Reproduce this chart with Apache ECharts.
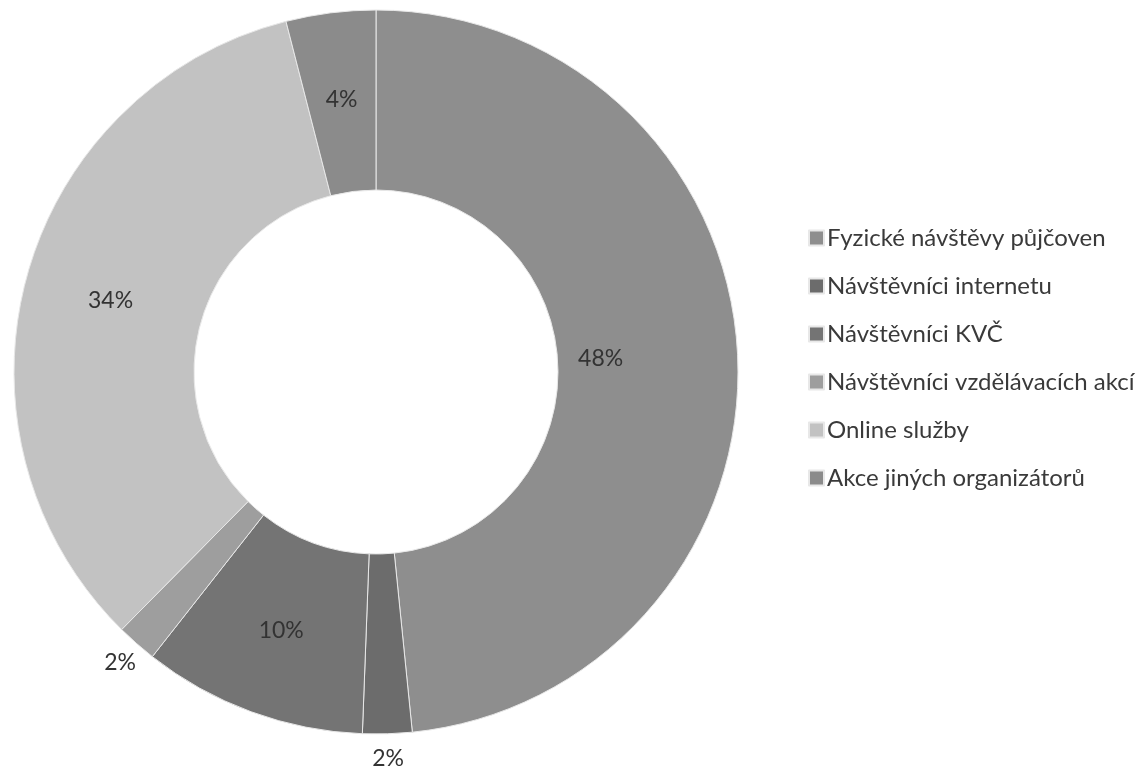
<!DOCTYPE html>
<html>
<head>
<meta charset="utf-8">
<script src="https://cdn.jsdelivr.net/npm/echarts@6/dist/echarts.min.js"></script>
<style>
html,body{margin:0;padding:0;background:#fff;}
#chart{width:1147px;height:767px;}
</style>
</head>
<body>
<div id="chart"></div>
<script>
const categories = ["Fyzické návštěvy půjčoven","Návštěvníci internetu","Návštěvníci KVČ","Návštěvníci vzdělávacích akcí","Online služby","Akce jiných organizátorů"];
const shares = [48.4, 2.2, 10.0, 1.8, 33.6, 4.0];
const colors = ["#8e8e8e","#6c6c6c","#747474","#9e9e9e","#c2c2c2","#8b8b8b"];
const outsideLabelThreshold = 3;

const chart = echarts.init(document.getElementById('chart'));
const mainData = categories.map((c,i)=>({name:c,value:shares[i],itemStyle:{color:colors[i]}}));
const ringData = categories.map((c,i)=>({name:c,value:shares[i]}));
const fmt = p => Math.round(p.percent) + '%';

chart.setOption({
  animation:false,
  backgroundColor:'#ffffff',
  legend:{
    orient:'vertical',
    left:803,
    top:221,
    itemWidth:15,
    itemHeight:15,
    itemGap:24,
    icon:'rect',
    textStyle:{fontFamily:'Lato',fontSize:24,color:'#3a3a3a',padding:[0,0,0,-2]},
    data:categories
  },
  series:[
    {
      type:'pie',
      center:[376,372],
      radius:[182,362],
      startAngle:90,
      clockwise:true,
      avoidLabelOverlap:false,
      itemStyle:{borderColor:'#e8e8e8',borderWidth:1},
      label:{
        show:true,
        position:'inside',
        fontFamily:'Lato',
        fontSize:23,
        color:'#333',
        formatter:p => p.value < outsideLabelThreshold ? '' : fmt(p)
      },
      labelLayout: p => p.dataIndex === 0 ? {dx:-50} : {},
      labelLine:{show:false},
      emphasis:{disabled:true},
      data:mainData
    },
    {
      type:'pie',
      center:[376,372],
      radius:[362,406],
      startAngle:90,
      clockwise:true,
      silent:true,
      avoidLabelOverlap:false,
      legendHoverLink:false,
      itemStyle:{color:'rgba(0,0,0,0)'},
      label:{
        show:true,
        position:'inside',
        fontFamily:'Lato',
        fontSize:23,
        color:'#333',
        formatter:p => p.value < outsideLabelThreshold ? fmt(p) : ''
      },
      labelLine:{show:false},
      emphasis:{disabled:true},
      data:ringData
    }
  ]
});
</script>
</body>
</html>
